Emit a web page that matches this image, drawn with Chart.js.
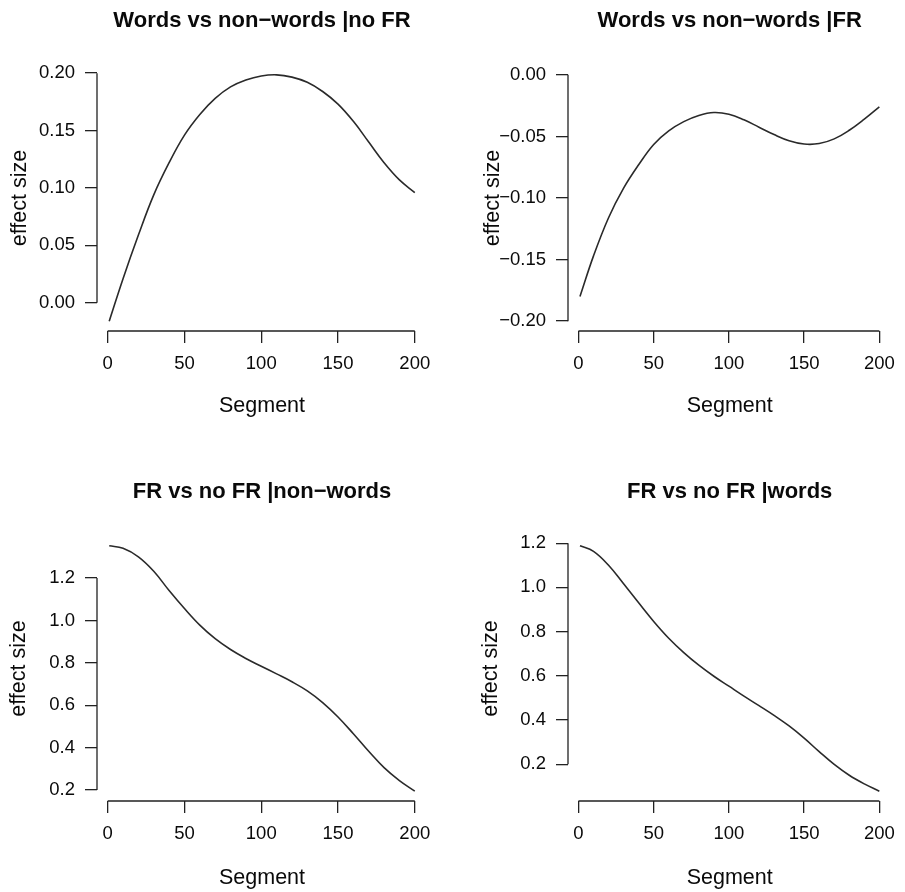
<!DOCTYPE html>
<html>
<head>
<meta charset="utf-8">
<title>Effect size by segment</title>
<script src="https://cdn.jsdelivr.net/npm/chart.js@4.4.1/dist/chart.umd.min.js"></script>
<style>
  body { margin: 0; background: #fff; }
  #wrap { position: relative; width: 905px; height: 892px; }
  #wrap canvas { position: absolute; }
</style>
</head>
<body>
<div id="wrap">
  <canvas id="p1" width="452" height="446" style="left:0;top:0"></canvas>
  <canvas id="p2" width="453" height="446" style="left:452px;top:0"></canvas>
  <canvas id="p3" width="452" height="446" style="left:0;top:446px"></canvas>
  <canvas id="p4" width="453" height="446" style="left:452px;top:446px"></canvas>
</div>
<script>
// values
const segments = [1, 10, 20, 30, 40, 50, 60, 70, 80, 90, 100, 110, 120, 130, 140, 150, 160, 170, 180, 190, 200];
const wordsNoFR = [-0.016, 0.021, 0.059, 0.094, 0.122, 0.146, 0.164, 0.178, 0.188, 0.194, 0.1975, 0.1985, 0.1965, 0.192, 0.184, 0.173, 0.158, 0.140, 0.122, 0.107, 0.096];
const wordsFR = [-0.180, -0.147, -0.116, -0.092, -0.073, -0.0565, -0.0455, -0.038, -0.033, -0.0306, -0.032, -0.0365, -0.0425, -0.0485, -0.0535, -0.0562, -0.0558, -0.052, -0.045, -0.036, -0.026];
const frNonWords = [1.352, 1.340, 1.300, 1.232, 1.141, 1.056, 0.978, 0.914, 0.863, 0.821, 0.784, 0.748, 0.711, 0.668, 0.613, 0.545, 0.466, 0.383, 0.306, 0.245, 0.195];
const frWords = [1.188, 1.163, 1.100, 1.016, 0.930, 0.846, 0.770, 0.705, 0.648, 0.598, 0.553, 0.508, 0.465, 0.421, 0.373, 0.318, 0.257, 0.199, 0.150, 0.111, 0.078];

const segmentTicks = [0, 50, 100, 150, 200];
const wordsNoFRTicks = [0, 0.05, 0.10, 0.15, 0.20];
const wordsFRTicks = [-0.20, -0.15, -0.10, -0.05, 0];
const frTicks = [0.2, 0.4, 0.6, 0.8, 1.0, 1.2];

const FONT = '"Liberation Sans", Arial, Helvetica, sans-serif';
const INK = '#0a0a0a';
const LINE = '#222';

// R pads the data range by 4% on each side
function rRange(lo, hi) {
    const d = (hi - lo) * 0.04;
    return [lo - d, hi + d];
}

function fmt(digits) {
    return function(v) {
        const s = Math.abs(v).toFixed(digits);
        return v < -1e-9 ? '\u2212' + s : s;
    };
}

// axis lines only between first and last tick, plus the main title
const rAxes = {
    id: 'rAxes',
    afterDraw(chart, args, opts) {
        const ctx = chart.ctx;
        const area = chart.chartArea;
        const xs = chart.scales.x;
        const ys = chart.scales.y;
        ctx.save();
        ctx.strokeStyle = LINE;
        ctx.lineWidth = 1.3;
        ctx.beginPath();
        ctx.moveTo(xs.getPixelForValue(xs.ticks[0].value), area.bottom);
        ctx.lineTo(xs.getPixelForValue(xs.ticks[xs.ticks.length - 1].value), area.bottom);
        ctx.moveTo(area.left, ys.getPixelForValue(ys.ticks[0].value));
        ctx.lineTo(area.left, ys.getPixelForValue(ys.ticks[ys.ticks.length - 1].value));
        ctx.stroke();

        ctx.font = 'bold 22px ' + FONT;
        ctx.fillStyle = INK;
        ctx.textAlign = 'center';
        ctx.textBaseline = 'alphabetic';
        ctx.fillText(opts.text, (area.left + area.right) / 2, opts.baseline);
        ctx.restore();
    }
};

function makePanel(id, title, values, yTicks, yRange, yFmt, g) {
    const xRange = rRange(segments[0], segments[segments.length - 1]);
    const ctx = document.getElementById(id).getContext('2d');
    new Chart(ctx, {
        type: 'line',
        data: {
            datasets: [{
                data: segments.map((s, i) => ({ x: s, y: values[i] })),
                borderColor: '#2a2a2a',
                borderWidth: 1.6,
                pointRadius: 0,
                fill: false,
                tension: 0.4
            }]
        },
        options: {
            responsive: false,
            animation: false,
            devicePixelRatio: 1,
            layout: {
                padding: { top: g.padTop, right: g.padRight, left: 0, bottom: 0 }
            },
            plugins: {
                legend: { display: false },
                tooltip: { enabled: false },
                rAxes: { text: title, baseline: g.titleBaseline }
            },
            scales: {
                x: {
                    type: 'linear',
                    min: xRange[0],
                    max: xRange[1],
                    afterBuildTicks: s => { s.ticks = segmentTicks.map(v => ({ value: v })); },
                    afterFit: s => { s.height = g.xHeight; },
                    border: { display: false },
                    grid: { drawOnChartArea: false, drawTicks: true, tickLength: 12, color: LINE, lineWidth: 1.3 },
                    ticks: {
                        color: INK,
                        padding: 10,
                        autoSkip: false,
                        maxRotation: 0,
                        font: { family: FONT, size: 18.5 },
                        callback: v => String(v)
                    },
                    title: {
                        display: true,
                        text: 'Segment',
                        color: INK,
                        font: { family: FONT, size: 21.5 },
                        padding: { top: 0, bottom: g.xTitlePad }
                    }
                },
                y: {
                    type: 'linear',
                    min: yRange[0],
                    max: yRange[1],
                    afterBuildTicks: s => { s.ticks = yTicks.map(v => ({ value: v })); },
                    afterFit: s => { s.width = g.yWidth; },
                    border: { display: false },
                    grid: { drawOnChartArea: false, drawTicks: true, tickLength: 12, color: LINE, lineWidth: 1.3 },
                    ticks: {
                        color: INK,
                        padding: 10,
                        autoSkip: false,
                        font: { family: FONT, size: 18.5 },
                        callback: yFmt
                    },
                    title: {
                        display: true,
                        text: 'effect size',
                        color: INK,
                        font: { family: FONT, size: 21.5 },
                        padding: { top: g.yTitlePad, bottom: 0 }
                    }
                }
            }
        },
        plugins: [rAxes]
    });
}

document.addEventListener('DOMContentLoaded', function() {
    const topLeft = { padTop: 65, padRight: 25, yWidth: 97, xHeight: 115, yTitlePad: 7, xTitlePad: 27, titleBaseline: 27 };
    const topRight = { padTop: 65, padRight: 6, yWidth: 116, xHeight: 115, yTitlePad: 28, xTitlePad: 27, titleBaseline: 27 };
    const botLeft = { padTop: 90, padRight: 25, yWidth: 97, xHeight: 91, yTitlePad: 6, xTitlePad: 1, titleBaseline: 52 };
    const botRight = { padTop: 90, padRight: 6, yWidth: 116, xHeight: 91, yTitlePad: 26, xTitlePad: 1, titleBaseline: 52 };

    makePanel('p1', 'Words vs non\u2212words |no FR', wordsNoFR, wordsNoFRTicks,
        rRange(Math.min(...wordsNoFR), Math.max(...wordsNoFR)), fmt(2), topLeft);
    makePanel('p2', 'Words vs non\u2212words |FR', wordsFR, wordsFRTicks,
        rRange(-0.2, 0), fmt(2), topRight);
    makePanel('p3', 'FR vs no FR |non\u2212words', frNonWords, frTicks,
        rRange(Math.min(...frNonWords), Math.max(...frNonWords)), fmt(1), botLeft);
    makePanel('p4', 'FR vs no FR |words', frWords, frTicks,
        rRange(Math.min(...frWords), Math.max(...frWords)), fmt(1), botRight);
});
</script>
</body>
</html>
